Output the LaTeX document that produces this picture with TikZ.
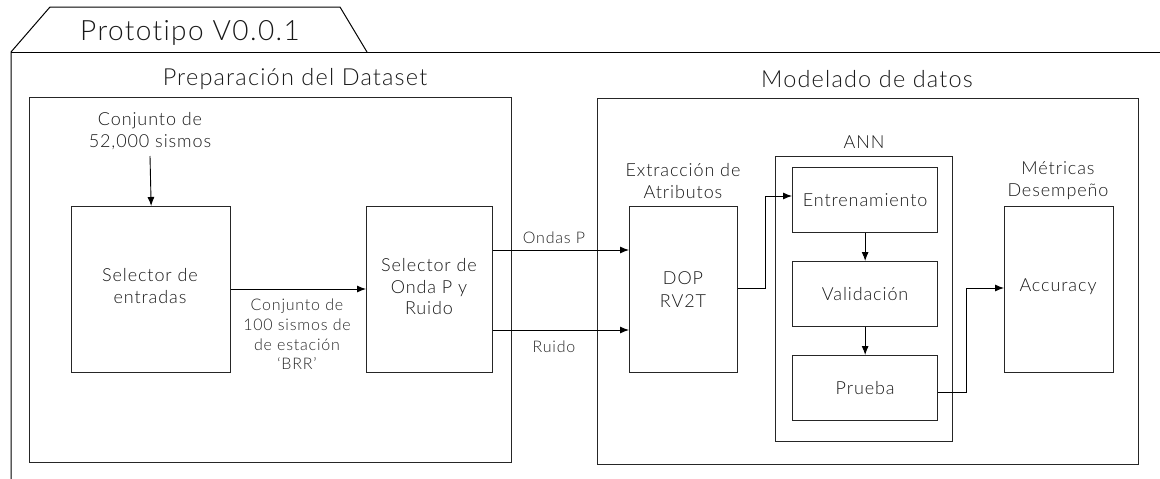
\documentclass[tikz,border=0pt]{standalone}
\usepackage{fontspec}
\setmainfont{Lato}[UprightFont={* Light},LetterSpace=5,Ligatures=NoCommon]
\usetikzlibrary{arrows.meta}
\begin{document}
\begin{tikzpicture}[x=1pt,y=-1pt,
  box/.style={draw=black!85,line width=1.3pt,inner sep=0pt,anchor=north west},
  conn/.style={draw=black,line width=0.9pt},
  arr/.style={conn,-{Latex[length=9pt,width=7pt]}},
  lbl/.style={font=\fontsize{16}{20}\selectfont,align=center,text=black!85,inner sep=0pt},
  sec/.style={font=\fontsize{23.5}{28}\selectfont,text=black!90,inner sep=0pt},
  btxt/.style={font=\fontsize{18}{22}\selectfont,align=center,text=black!90,inner sep=0pt}]
\useasboundingbox (0,0) rectangle (1160,479);
% outer frame with tab
\draw[line width=1pt] (11,479) -- (11,52) -- (50,7) -- (340,7) -- (367,52);
\draw[line width=1pt] (11,52) -- (1160,52);
\node[font=\fontsize{28}{32}\selectfont,text=black!90,inner sep=0pt] (title) at (190,33) {Prototipo V0.0.1};
% left section
\node[sec] (t1) at (295,79) {Preparación del Dataset};
\node[box,minimum width=482pt,minimum height=365pt] (left) at (29,97) {};
\node[btxt] (inp) at (150,131) {Conjunto de\\52,000 sismos};
\node[box,minimum width=159pt,minimum height=166pt] (sel) at (71,206) {};
\node[btxt] at (150,286) {Selector de\\entradas};
\node[box,minimum width=126pt,minimum height=166pt] (selp) at (366,206) {};
\node[btxt,font=\fontsize{18}{21.5}\selectfont] at (429,287) {Selector de\\Onda P y\\Ruido};
\draw[arr] (inp.south |- 0,156) -- (sel.north);
\draw[arr] (sel.east |- 0,289) -- (selp.west |- 0,289);
\node[lbl,font=\fontsize{16}{19.6}\selectfont] (c100) at (297,334.5) {Conjunto de\\100 sismos de\\de estación\\`BRR'};
% right section
\node[sec] (t2) at (867,79) {Modelado de datos};
\node[box,minimum width=541pt,minimum height=366pt] (right) at (597,98) {};
\node[box,minimum width=108pt,minimum height=166pt] (dop) at (629,206) {};
\node[btxt,font=\fontsize{18}{23}\selectfont] at (683,290) {DOP\\RV2T};
\node[btxt] (ext) at (683,181) {Extracción de\\Atributos};
\draw[arr] (selp.east |- 0,250) -- (dop.west |- 0,250);
\draw[arr] (selp.east |- 0,330) -- (dop.west |- 0,330);
\node[lbl] (op) at (554,238) {Ondas P};
\node[lbl] (ru) at (554,347) {Ruido};
% ANN
\node[box,minimum width=177pt,minimum height=285pt] (ann) at (775,156) {};
\node[btxt] (annl) at (864,142) {ANN};
\node[box,minimum width=145pt,minimum height=65pt] (ent) at (792,167) {};
\node[btxt] at (ent.center) {Entrenamiento};
\node[box,minimum width=145pt,minimum height=65pt] (val) at (792,261) {};
\node[btxt] at (val.center) {Validación};
\node[box,minimum width=145pt,minimum height=65pt] (pru) at (792,355) {};
\node[btxt] at (pru.center) {Prueba};
\draw[arr] (ent.south) -- (val.north);
\draw[arr] (val.south) -- (pru.north);
% metrics
\node[box,minimum width=109pt,minimum height=166pt] (met) at (1004,206) {};
\node[btxt] (metl) at (1058,181) {Métricas\\Desempeño};
\node[btxt] at (1058,287) {Accuracy};
\draw[arr] (dop.east |- 0,288) -- (765,288) -- (765,196) -- (ent.west |- 0,196);
\draw[arr] (pru.east |- 0,392) -- (966,392) -- (966,288) -- (met.west |- 0,288);
\end{tikzpicture}
\end{document}
